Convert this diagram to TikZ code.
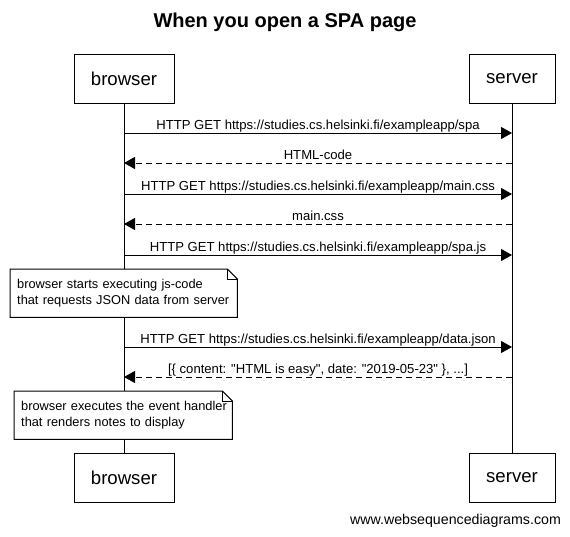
\documentclass[tikz,border=0pt]{standalone}
\usepackage{fontspec}
\setmainfont{Liberation Sans}[Ligatures=TeXOff]
\usetikzlibrary{arrows.meta}
\begin{document}
\begin{tikzpicture}[x=1pt,y=-1pt,
  actor/.style={draw,line width=1pt,minimum width=100pt,minimum height=49pt,inner sep=0pt,font=\fontsize{18.6}{22}\selectfont},
  msg/.style={line width=1pt,-{Triangle[length=11pt,width=12pt]}},
  reply/.style={msg,dash pattern=on 6pt off 4pt},
  lbl/.style={font=\fontsize{13.1}{15}\selectfont,inner sep=0pt,anchor=base},
  notebox/.style={fill=white,minimum height=48pt,inner ysep=0pt,align=left,font=\fontsize{12.8}{15.5}\selectfont,anchor=north west},
  noteline/.style={line width=1pt},
  lifeline/.style={line width=1pt}
]
\useasboundingbox (0,0) rectangle (570,536);
\node[font=\bfseries\fontsize{20}{24}\selectfont] (title) at (285,22) {When you open a SPA page};
\node[actor] (bt) at (124,78.5) {browser};
\node[actor,minimum width=86pt] (st) at (512,78.5) {server};
\node[actor] (bb) at (124,477.5) {browser};
\node[actor,minimum width=86pt] (sb) at (512,477.5) {server};
\draw[lifeline] (bt) -- (bb);
\draw[lifeline] (st) -- (sb);
% message points
\foreach \n/\y in {1/133,2/163,3/194,4/224,5/255,7/347,8/377}{
  \coordinate (b\n) at (124,\y);
  \coordinate (s\n) at (512,\y);
}
\draw[msg] (b1) -- (s1) node[lbl,pos=0.5,yshift=4pt] (m1) {HTTP GET https://studies.cs.helsinki.fi/exampleapp/spa};
\draw[reply] (s2) -- (b2) node[lbl,pos=0.5,yshift=4pt] (m2) {HTML-code};
\draw[msg] (b3) -- (s3) node[lbl,pos=0.5,yshift=4pt] (m3) {HTTP GET https://studies.cs.helsinki.fi/exampleapp/main.css};
\draw[reply] (s4) -- (b4) node[lbl,pos=0.5,yshift=4pt] (m4) {main.css};
\draw[msg] (b5) -- (s5) node[lbl,pos=0.5,yshift=4pt] (m5) {HTTP GET https://studies.cs.helsinki.fi/exampleapp/spa.js};
\draw[msg] (b7) -- (s7) node[lbl,pos=0.5,yshift=4pt] (m7) {HTTP GET https://studies.cs.helsinki.fi/exampleapp/data.json};
\draw[reply] (s8) -- (b8) node[lbl,pos=0.5,yshift=4pt] (m8) {[\{ content: "HTML is easy", date: "2019-05-23" \}, ...]};
% notes
\node[notebox,minimum width=227pt,text width=213pt,inner xsep=7pt] (n1) at (10,269) {\mbox{browser starts executing js-code}\\\mbox{that requests JSON data from server}};
\draw[noteline] (n1.north west) -- ([xshift=-10pt]n1.north east) -- ([yshift=-10pt]n1.north east) -- (n1.south east) -- (n1.south west) -- cycle;
\draw[noteline] ([xshift=-10pt]n1.north east) -- ([xshift=-10pt,yshift=-10pt]n1.north east) -- ([yshift=-10pt]n1.north east);
\node[notebox,minimum width=218pt,text width=204pt,inner xsep=7pt] (n2) at (14,391) {\mbox{browser executes the event handler}\\\mbox{that renders notes to display}};
\draw[noteline] (n2.north west) -- ([xshift=-10pt]n2.north east) -- ([yshift=-10pt]n2.north east) -- (n2.south east) -- (n2.south west) -- cycle;
\draw[noteline] ([xshift=-10pt]n2.north east) -- ([xshift=-10pt,yshift=-10pt]n2.north east) -- ([yshift=-10pt]n2.north east);
\node[font=\fontsize{14.2}{17}\selectfont] (footer) at (455.5,521) {www.websequencediagrams.com};
\end{tikzpicture}
\end{document}
